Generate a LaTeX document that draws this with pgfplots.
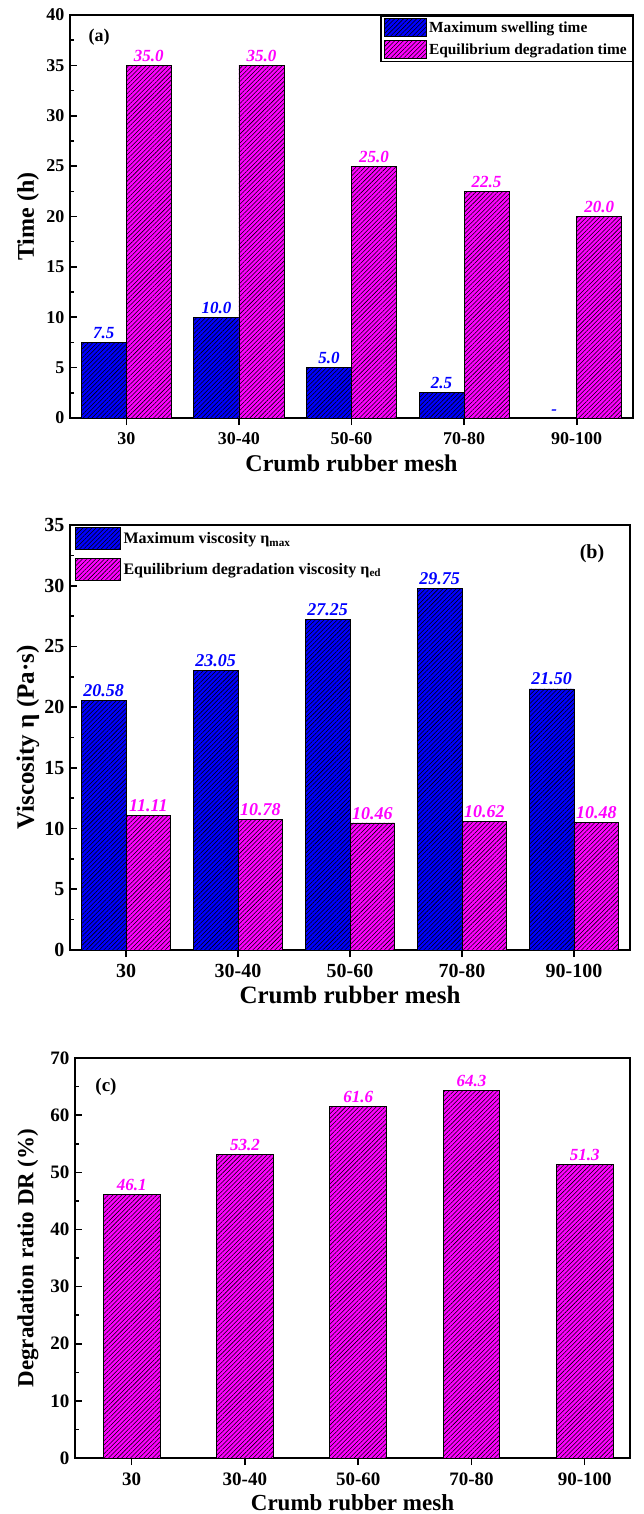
\documentclass[border=0pt]{standalone}
\usepackage{fontspec}
\setmainfont{Liberation Serif}
\usepackage{pgfplots}
\pgfplotsset{compat=1.18}
\usetikzlibrary{patterns.meta}
\definecolor{barblue}{RGB}{0,0,255}
\definecolor{barmag}{RGB}{255,0,255}

\newcommand{\fs}[1]{\fontsize{#1}{#1}\selectfont\bfseries}

\pgfplotsset{
 myaxis/.style={
  scale only axis,
  enlargelimits=false,
  axis line style={line width=2pt},
  every tick/.style={black, line width=1.6pt},
  major tick length=7pt,
  minor tick length=4pt,
  tick align=inside,
  xtick pos=bottom, ytick pos=left,
  minor y tick num=1,
  /pgf/number format/assume math mode=true,
  xtick={0,1,2,3,4},
  xticklabels={30,30-40,50-60,70-80,90-100},
  xticklabel style={yshift=-4pt},
  yticklabel style={xshift=-2pt},
  xlabel={Crumb rubber mesh},
  xlabel style={at={(axis description cs:0.5,0)},anchor=center,yshift=-45pt},
  ybar=0pt,
  nodes near coords,
  point meta=explicit symbolic,
  legend cell align=left,
 },
 hatch/.style={draw=black,line width=0.8pt,fill=#1,
   postaction={pattern={Lines[angle=45,distance=3.1pt,line width=0.55pt]}}},
}

\begin{document}
\begin{tikzpicture}
\path[use as bounding box] (0,0) rectangle (643pt,-1514pt);

% ---------------- (a)
\begin{axis}[myaxis,
  at={(70pt,-418pt)}, anchor=south west,
  width=563pt, height=403pt,
  xmin=-0.5, xmax=4.5, ymin=0, ymax=40,
  ytick={0,5,...,40},
  bar width=0.4,
  tick label style={font=\fs{18}},
  label style={font=\fs{24}},
  ylabel={Time (h)},
  ylabel style={at={(axis description cs:-0.0746,0.5)},anchor=center},
  nodes near coords style={font=\fontsize{17}{17}\selectfont\bfseries\itshape},
  legend image code/.code={\draw[#1,line width=0.8pt] (0pt,-9pt) rectangle (42pt,9pt);},
  legend style={at={(1,1)},anchor=north east,draw=black,line width=1.5pt,
     font=\fs{15.4},inner xsep=3pt,inner ysep=2.5pt,row sep=3pt,
     nodes={inner sep=2.5pt}},
]
\addplot+[hatch=barblue, bar shift=-0.2,
  every node near coord/.append style={text=barblue}]
  coordinates {(0,7.5)[7.5] (1,10)[10.0] (2,5)[5.0] (3,2.5)[2.5] (4,0)[-]};
\addplot+[hatch=barmag, bar shift=0.2,
  every node near coord/.append style={text=barmag}]
  coordinates {(0,35)[35.0] (1,35)[35.0] (2,25)[25.0] (3,22.5)[22.5] (4,20)[20.0]};
\legend{Maximum swelling time, Equilibrium degradation time}
\end{axis}
\node[font=\fs{18}] at (99pt,-37pt) {(a)};

% ---------------- (b)
\begin{axis}[myaxis,
  at={(70pt,-950pt)}, anchor=south west,
  width=560pt, height=425pt,
  xmin=-0.5, xmax=4.5, ymin=0, ymax=35,
  ytick={0,5,...,35},
  bar width=0.4,
  tick label style={font=\fs{20}},
  label style={font=\fs{25}},
  ylabel={Viscosity η (Pa·s)},
  ylabel style={at={(axis description cs:-0.075,0.5)},anchor=center},
  nodes near coords style={font=\fontsize{18}{18}\selectfont\bfseries\itshape},
  legend image code/.code={\draw[#1,line width=0.8pt] (0pt,-11pt) rectangle (45pt,11pt);},
  legend style={at={(0,1)},anchor=north west,draw=none,fill=none,
     font=\fs{16},inner xsep=5pt,inner ysep=2pt,row sep=8pt,
     nodes={inner sep=2.5pt}},
]
\addplot+[hatch=barblue, bar shift=-0.2,
  every node near coord/.append style={text=barblue}]
  coordinates {(0,20.58)[20.58] (1,23.05)[23.05] (2,27.25)[27.25] (3,29.75)[29.75] (4,21.50)[21.50]};
\addplot+[hatch=barmag, bar shift=0.2,
  every node near coord/.append style={text=barmag}]
  coordinates {(0,11.11)[11.11] (1,10.78)[10.78] (2,10.46)[10.46] (3,10.62)[10.62] (4,10.48)[10.48]};
\legend{Maximum viscosity η\textsubscript{max}, Equilibrium degradation viscosity η\textsubscript{ed}}
\end{axis}
\node[font=\fs{20}] at (592pt,-554pt) {(b)};

% ---------------- (c)
\begin{axis}[myaxis,
  at={(75pt,-1458pt)}, anchor=south west,
  width=555pt, height=400pt,
  xmin=-0.5, xmax=4.4, ymin=0, ymax=70,
  ytick={0,10,...,70},
  bar width=0.5,
  tick label style={font=\fs{19}},
  label style={font=\fs{23}},
  ylabel={Degradation ratio DR (\%)},
  ylabel style={at={(axis description cs:-0.0847,0.5)},anchor=center},
  nodes near coords style={font=\fontsize{17}{17}\selectfont\bfseries\itshape},
]
\addplot+[hatch=barmag, bar shift=0,
  every node near coord/.append style={text=barmag}]
  coordinates {(0,46.1)[46.1] (1,53.2)[53.2] (2,61.6)[61.6] (3,64.3)[64.3] (4,51.3)[51.3]};
\end{axis}
\node[font=\fs{19}] at (106pt,-1087pt) {(c)};
\end{tikzpicture}
\end{document}
